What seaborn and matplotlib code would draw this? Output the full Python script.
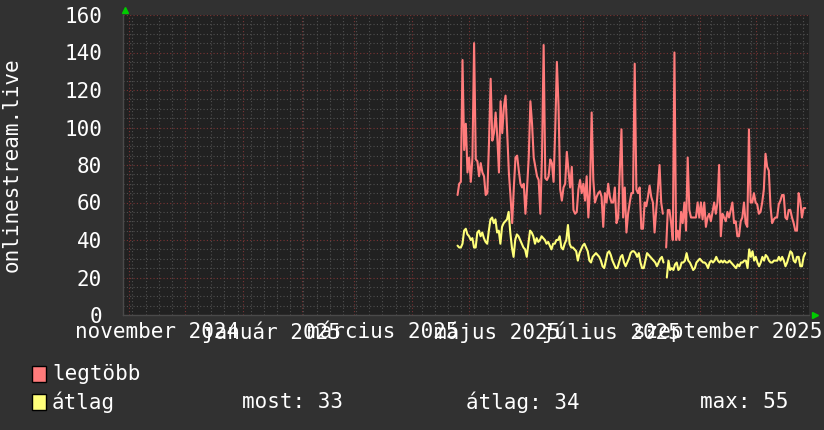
import numpy as np
import pandas as pd
import matplotlib
matplotlib.use("Agg")
import matplotlib.pyplot as plt
import matplotlib.dates as mdates
import matplotlib.transforms as mtransforms
from matplotlib.patches import Rectangle
import seaborn as sns

nan = np.nan

# time span of the graph and of the measured data
view_start = "2024-10-29"
view_end = "2025-10-29"
data_start = "2025-04-25"
data_end = "2025-10-27"

# "legtöbb" (daily maximum), NaN = missing data
legtobb = [
    64, 70, 71, 136, 88, 102, 76, 84, 71, 84, 145, 83, 82, 74, 81, 76, 74, 64, 65, 92,
    126, 93, 97, 108, 95, 76, 114, 97, 111, 117, 97, 76, 63, 49, 68, 84, 85, 77, 70, 68,
    70, 54, 68, 84, 114, 102, 84, 79, 74, 72,
    54, 84, 144, 73, 72, 74, 83, 81, 71, 99, 135, 111, 67, 61, 68, 70, 87, 77, 68, 79,
    56, 54, 55, 67, 72, 65, 70, 61, 74, 52, 67, 108, 72, 60, 63, 65, 66, 63, 47, 65,
    60, 70, 63, 60, 60, 68, 49, 52, 77, 99,
    52, 68, 44, 54, 60, 65, 65, 134, 67, 65, 68, 46, 46, 60, 58, 63, 69, 63, 60, 44,
    56, 67, 80, 60, 54, nan, 36, 56, 56, 49, 40, 140, 40, 45, 40, 55, 49, 60, 45, 84,
    56, 52, 52, 52, 52, 60, 52, 60, 51, 60,
    47, 52, 54, 50, 55, 60, 54, 60, 80, 42, 54, 52, 50, 55, 52, 56, 60, 49, 50, 42,
    42, 50, 52, 60, 49, 47, 99, 60, 60, 65, 60, 59, 54, 55, 60, 67, 86, 79, 77, 58,
    49, 51, 52, 52, 59, 61, 64, 64, 52, 51, 56, 56, 52, 49, 45, 45, 65, 61, 52, 57, 57,
]

# "átlag" (daily average)
atlag = [
    37, 36, 36, 38, 45, 46, 43, 42, 40, 41, 36, 36, 44, 45, 42, 44, 41, 39, 38, 45,
    51, 52, 49, 51, 44, 45, 38, 47, 49, 50, 51, 55, 44, 36, 31, 40, 43, 42, 40, 38,
    36, 35, 31, 38, 45, 44, 42, 38, 41, 39, 40,
    42, 41, 40, 38, 39, 37, 35, 38, 38, 40, 40, 42, 36, 35, 38, 40, 48, 38, 36, 36,
    35, 34, 29, 33, 35, 37, 38, 36, 34, 29, 28, 31, 32, 33, 32, 31, 29, 26, 25, 29,
    33, 34, 32, 29, 27, 25, 25, 28, 31, 32,
    28, 26, 28, 30, 33, 34, 34, 33, 31, 33, 28, 25, 25, 29, 33, 32, 31, 30, 29, 28,
    26, 28, 30, 31, 28, nan, 20, 29, 24, 25, 24, 27, 28, 24, 25, 28, 28, 29, 33, 29,
    28, 26, 24, 25, 28, 29, 30, 29, 28, 28, 27,
    25, 28, 29, 28, 29, 31, 29, 28, 29, 28, 29, 28, 28, 29, 28, 27, 26, 25, 27, 26,
    28, 28, 29, 29, 25, 35, 31, 34, 29, 31, 28, 26, 28, 31, 29, 32, 31, 29, 28, 28,
    29, 29, 29, 31, 29, 31, 29, 26, 28, 31, 34, 33, 29, 28, 31, 31, 26, 26, 31, 33,
]

label_dates = ["2024-11-16", "2025-01-16", "2025-03-16", "2025-05-16", "2025-07-16", "2025-09-16"]
label_texts = ["november 2024", "január 2025", "március 2025", "május 2025", "július 2025", "szeptember 2025"]
y_ticks = [0, 20, 40, 60, 80, 100, 120, 140, 160]
series_names = ["legtöbb", "átlag"]
atlag_stats = ["most: 33", "átlag: 34", "max: 55"]

BACK = "#313131"
CANVAS = "#212121"
RED = "#ff7b7b"
YELLOW = "#ffff7a"
MINOR = "#505050"
MAJOR = "#7a3434"
FONT = 15


def series_frame(values):
    df = pd.DataFrame({
        "nap": pd.date_range(data_start, data_end, periods=len(values)),
        "ertek": values,
    })
    # split the line where data is missing
    df["szakasz"] = df["ertek"].isna().cumsum()
    return df.dropna()


sns.set_style("dark")
plt.rcParams["font.family"] = ["DejaVu Sans Mono", "DejaVu Sans"]

fig = plt.figure(figsize=(8.24, 4.30), dpi=100, facecolor=BACK)
ax = fig.add_axes([123 / 824, 115 / 430, 686 / 824, 300 / 430])
ax.set_facecolor(CANVAS)

# grid like rrdtool: weekly / 5 minor, monthly / 20 major
ax.set_xlim(pd.Timestamp(view_start), pd.Timestamp(view_end))
ax.set_ylim(0, 160)
ax.xaxis.set_major_locator(mdates.MonthLocator())
ax.xaxis.set_minor_locator(mdates.WeekdayLocator(byweekday=mdates.SU))
ax.xaxis.set_major_formatter(plt.NullFormatter())
ax.yaxis.set_major_locator(plt.MultipleLocator(20))
ax.yaxis.set_minor_locator(plt.MultipleLocator(5))
ax.grid(which="minor", color=MINOR, linestyle=(0, (1, 2)), linewidth=0.8)
ax.grid(which="major", color=MAJOR, linestyle=(0, (1, 2)), linewidth=0.8)
ax.set_axisbelow(True)

sns.lineplot(data=series_frame(legtobb), x="nap", y="ertek", units="szakasz", estimator=None,
             color=RED, linewidth=1.5, ax=ax)
sns.lineplot(data=series_frame(atlag), x="nap", y="ertek", units="szakasz", estimator=None,
             color=YELLOW, linewidth=1.5, ax=ax)

ax.set_xlabel("")
ax.set_ylabel("")
ax.set_yticks(y_ticks)
ax.tick_params(axis="y", which="major", length=2, color=MAJOR, labelcolor="white",
               labelsize=FONT, pad=13)
ax.tick_params(axis="y", which="minor", length=2, color=MINOR)
ax.tick_params(axis="x", which="major", length=3, color=MAJOR, direction="out")
ax.tick_params(axis="x", which="minor", length=2, color=MINOR)
for side in ["top", "right"]:
    ax.spines[side].set_visible(False)
for side in ["left", "bottom"]:
    ax.spines[side].set_color("#4a4a4a")
    ax.spines[side].set_linewidth(1)

# month labels centred in the middle of every second month
for d, txt in zip(pd.to_datetime(label_dates), label_texts):
    ax.text(d, -17 / 300, txt, transform=ax.get_xaxis_transform(), ha="center", va="center",
            color="white", fontsize=FONT)

# green axis arrows
up = mtransforms.offset_copy(ax.transAxes, fig=fig, x=2, y=5, units="dots")
ax.plot([0], [1], marker="^", color="#00cc00", markersize=5, transform=up, clip_on=False)
rt = mtransforms.offset_copy(ax.transAxes, fig=fig, x=6, y=0, units="dots")
ax.plot([1], [0], marker=">", color="#00cc00", markersize=5, transform=rt, clip_on=False)

fig.text(12 / 824, 1 - 165 / 430, "onlinestream.live", rotation=90, ha="center", va="center",
         color="white", fontsize=FONT)

# legend drawn the rrdtool way
for row, (name, col) in enumerate(zip(series_names, [RED, YELLOW])):
    yc = 374 + 28 * row
    fig.add_artist(Rectangle((32 / 824, 1 - (yc + 8) / 430), 14 / 824, 16 / 430,
                             transform=fig.transFigure, facecolor=col, edgecolor="black", lw=1))
    fig.text(52 / 824, 1 - yc / 430, name, ha="left", va="center", color="white", fontsize=FONT)
for txt, xpos in zip(atlag_stats, [242, 466, 700]):
    fig.text(xpos / 824, 1 - 402 / 430, txt, ha="left", va="center", color="white", fontsize=FONT)

fig.savefig("out.png", dpi=100, facecolor=BACK)
